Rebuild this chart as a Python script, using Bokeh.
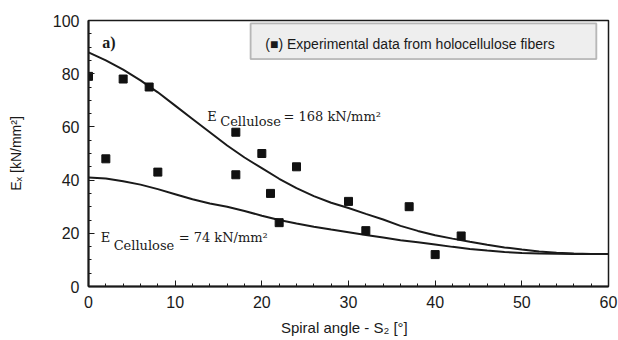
from bokeh.plotting import figure
from bokeh.models import Label, BoxAnnotation, Range1d, SingleIntervalTicker
from bokeh.embed import file_html
from bokeh.resources import INLINE

# Experimental data from holocellulose fibers
exp_angle = [0, 2, 4, 7, 8, 17, 17, 20, 21, 22, 24, 30, 32, 37, 40, 43]
exp_ex = [79, 48, 78, 75, 43, 58, 42, 50, 35, 24, 45, 32, 21, 30, 12, 19]

# Model curves
curve_angle = [0, 2, 4, 6, 8, 10, 12, 14, 16, 18, 20, 22, 24, 26, 28, 30,
               32, 34, 36, 38, 40, 42, 44, 46, 48, 50, 52, 54, 56, 58, 60]
ex_cell_168 = [88, 85, 81.5, 77.5, 73, 68, 63, 58, 53, 48.5, 44.5, 40.5, 37, 34, 31.5, 29.5,
               27.3, 25.2, 22.8, 20.9, 19.3, 18, 16.8, 15.7, 14.7, 13.9, 13.2, 12.7, 12.4, 12.25, 12.2]
ex_cell_74 = [41, 40.6, 39.6, 38.3, 36.6, 34.7, 32.8, 31.2, 30, 28.4, 26.6, 25, 23.7, 22.5, 21.4, 20.4,
              19.4, 18.4, 17.4, 16.6, 15.8, 14.9, 14.1, 13.5, 13, 12.6, 12.4, 12.3, 12.2, 12.2, 12.2]

x_ticks_interval = 10
y_ticks_interval = 20
x_label = "Spiral angle - S\u2082   [\u00b0]"
y_label = "E\u2093 [kN/mm\u00b2]"

INK = "#1a1a1a"
SANS = "Liberation Sans"
SERIF = "DejaVu Serif"

p = figure(width=618, height=340, x_range=Range1d(0, 60), y_range=Range1d(0, 100),
           output_backend="svg", toolbar_location=None,
           min_border_left=88, min_border_right=10, min_border_top=20, min_border_bottom=54)

p.grid.visible = False
p.outline_line_color = INK
p.outline_line_width = 1.5
p.background_fill_color = "white"
p.border_fill_color = "white"

p.xaxis.ticker = SingleIntervalTicker(interval=x_ticks_interval, num_minor_ticks=5)
p.yaxis.ticker = SingleIntervalTicker(interval=y_ticks_interval, num_minor_ticks=4)
for ax in (p.xaxis[0], p.yaxis[0]):
    ax.axis_line_color = INK
    ax.axis_line_width = 2
    ax.major_tick_in = 6
    ax.major_tick_out = 0
    ax.minor_tick_in = 3
    ax.minor_tick_out = 0
    ax.major_tick_line_color = INK
    ax.minor_tick_line_color = INK
    ax.major_label_text_font = SANS
    ax.major_label_text_color = INK
    ax.major_label_text_font_size = "16px"
    ax.major_label_standoff = 9
    ax.axis_label_text_font = SANS
    ax.axis_label_text_font_style = "normal"
    ax.axis_label_text_color = INK

p.xaxis.axis_label = x_label
p.yaxis.axis_label = y_label
p.xaxis.axis_label_text_font_size = "15px"
p.yaxis.axis_label_text_font_size = "14px"
p.xaxis.axis_label_standoff = 8
p.yaxis.axis_label_standoff = 26

# curves
p.line(curve_angle, ex_cell_168, line_color=INK, line_width=2)
p.line(curve_angle, ex_cell_74, line_color=INK, line_width=2)

# experimental points
p.scatter(exp_angle, exp_ex, marker="square", size=8, color="#111111")

# legend box
p.add_layout(BoxAnnotation(left=18.7, right=58.6, bottom=85.5, top=98.9,
                           fill_color="#eeeeee", fill_alpha=1.0,
                           line_color="#222222", line_width=1.8))
p.add_layout(Label(x=20.4, y=91.2, text="(\u25a0) Experimental data from holocellulose fibers",
                   text_font=SANS, text_font_size="14px", text_color=INK,
                   text_baseline="alphabetic"))

# panel tag
p.add_layout(Label(x=1.6, y=91.7, text="a)", text_font="Liberation Serif",
                   text_font_size="16px", text_font_style="bold", text_color=INK,
                   text_baseline="alphabetic"))

# curve annotations
def e_label(x_e, y_e, x_sub, y_sub, x_rest, rest):
    p.add_layout(Label(x=x_e, y=y_e, text="E", text_font=SERIF, text_font_size="13px",
                       text_color=INK, text_baseline="alphabetic"))
    p.add_layout(Label(x=x_sub, y=y_sub, text="Cellulose", text_font=SERIF, text_font_size="13px",
                       text_color=INK, text_baseline="alphabetic"))
    p.add_layout(Label(x=x_rest, y=y_e, text=rest, text_font=SERIF, text_font_size="13px",
                       text_color=INK, text_baseline="alphabetic"))

e_label(13.7, 63.9, 15.2, 62.0, 22.5, "= 168 kN/mm\u00b2")
e_label(1.4, 18.4, 2.9, 15.4, 10.4, "= 74 kN/mm\u00b2")

open("out.html", "w").write(file_html(p, INLINE))
